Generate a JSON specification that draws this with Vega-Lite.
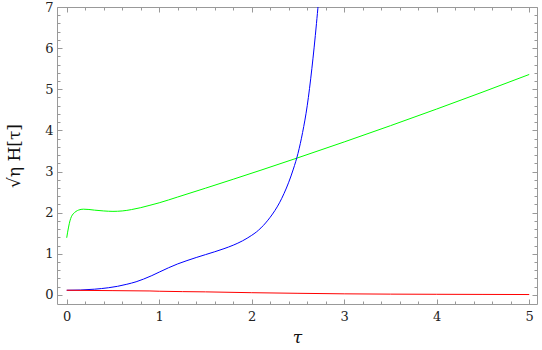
{
  "$schema": "https://vega.github.io/schema/vega-lite/v6.json",
  "width": 480,
  "height": 297,
  "autosize": "none",
  "padding": {"left": 57, "top": 7, "right": 5, "bottom": 46},
  "background": "white",
  "config": {
    "font": "DejaVu Serif",
    "view": {"stroke": "#999999", "strokeWidth": 1},
    "axis": {
      "domain": false,
      "grid": false,
      "tickColor": "#999999",
      "tickWidth": 1,
      "labelFont": "DejaVu Serif",
      "labelFontSize": 13,
      "labelColor": "#222222",
      "titleFont": "DejaVu Serif",
      "titleFontWeight": "normal",
      "titleColor": "#111111"
    }
  },
  "data": {
    "values": [
      {"t": 0, "v": 1.39, "s": "g"},
      {"t": 0.02, "v": 1.65, "s": "g"},
      {"t": 0.035, "v": 1.8, "s": "g"},
      {"t": 0.05, "v": 1.9, "s": "g"},
      {"t": 0.07, "v": 1.97, "s": "g"},
      {"t": 0.1, "v": 2.03, "s": "g"},
      {"t": 0.13, "v": 2.065, "s": "g"},
      {"t": 0.18, "v": 2.085, "s": "g"},
      {"t": 0.24, "v": 2.078, "s": "g"},
      {"t": 0.3, "v": 2.062, "s": "g"},
      {"t": 0.4, "v": 2.042, "s": "g"},
      {"t": 0.5, "v": 2.032, "s": "g"},
      {"t": 0.6, "v": 2.042, "s": "g"},
      {"t": 0.7, "v": 2.075, "s": "g"},
      {"t": 0.8, "v": 2.122, "s": "g"},
      {"t": 0.9, "v": 2.18, "s": "g"},
      {"t": 1.0, "v": 2.24, "s": "g"},
      {"t": 1.2, "v": 2.381, "s": "g"},
      {"t": 1.5, "v": 2.595, "s": "g"},
      {"t": 1.8, "v": 2.813, "s": "g"},
      {"t": 2.1, "v": 3.034, "s": "g"},
      {"t": 2.5, "v": 3.335, "s": "g"},
      {"t": 3.0, "v": 3.72, "s": "g"},
      {"t": 3.5, "v": 4.115, "s": "g"},
      {"t": 4.0, "v": 4.52, "s": "g"},
      {"t": 4.5, "v": 4.935, "s": "g"},
      {"t": 5.0, "v": 5.36, "s": "g"},
      {"t": 0, "v": 0.114, "s": "b"},
      {"t": 0.15, "v": 0.12, "s": "b"},
      {"t": 0.3, "v": 0.14, "s": "b"},
      {"t": 0.45, "v": 0.175, "s": "b"},
      {"t": 0.55, "v": 0.21, "s": "b"},
      {"t": 0.65, "v": 0.26, "s": "b"},
      {"t": 0.75, "v": 0.32, "s": "b"},
      {"t": 0.83, "v": 0.385, "s": "b"},
      {"t": 0.92, "v": 0.47, "s": "b"},
      {"t": 1.0, "v": 0.555, "s": "b"},
      {"t": 1.1, "v": 0.66, "s": "b"},
      {"t": 1.2, "v": 0.755, "s": "b"},
      {"t": 1.3, "v": 0.835, "s": "b"},
      {"t": 1.4, "v": 0.91, "s": "b"},
      {"t": 1.5, "v": 0.98, "s": "b"},
      {"t": 1.6, "v": 1.05, "s": "b"},
      {"t": 1.7, "v": 1.125, "s": "b"},
      {"t": 1.8, "v": 1.21, "s": "b"},
      {"t": 1.9, "v": 1.315, "s": "b"},
      {"t": 2.0, "v": 1.45, "s": "b"},
      {"t": 2.05, "v": 1.53, "s": "b"},
      {"t": 2.1, "v": 1.63, "s": "b"},
      {"t": 2.15, "v": 1.75, "s": "b"},
      {"t": 2.2, "v": 1.89, "s": "b"},
      {"t": 2.25, "v": 2.05, "s": "b"},
      {"t": 2.3, "v": 2.24, "s": "b"},
      {"t": 2.35, "v": 2.47, "s": "b"},
      {"t": 2.4, "v": 2.74, "s": "b"},
      {"t": 2.45, "v": 3.06, "s": "b"},
      {"t": 2.5, "v": 3.44, "s": "b"},
      {"t": 2.55, "v": 3.95, "s": "b"},
      {"t": 2.6, "v": 4.6, "s": "b"},
      {"t": 2.65, "v": 5.5, "s": "b"},
      {"t": 2.7, "v": 6.6, "s": "b"},
      {"t": 2.72, "v": 7.1, "s": "b"},
      {"t": 2.74, "v": 7.7, "s": "b"},
      {"t": 0, "v": 0.114, "s": "r"},
      {"t": 0.5, "v": 0.105, "s": "r"},
      {"t": 0.9, "v": 0.097, "s": "r"},
      {"t": 1.0, "v": 0.09, "s": "r"},
      {"t": 1.5, "v": 0.075, "s": "r"},
      {"t": 2.0, "v": 0.055, "s": "r"},
      {"t": 2.5, "v": 0.04, "s": "r"},
      {"t": 3.0, "v": 0.027, "s": "r"},
      {"t": 3.5, "v": 0.02, "s": "r"},
      {"t": 4.0, "v": 0.016, "s": "r"},
      {"t": 4.5, "v": 0.013, "s": "r"},
      {"t": 5.0, "v": 0.01, "s": "r"}
    ]
  },
  "layer": [
    {
      "mark": {"type": "line", "strokeWidth": 1, "clip": true, "interpolate": "monotone"},
      "encoding": {
        "x": {
          "field": "t", "type": "quantitative",
          "scale": {"domain": [-0.105, 5.084], "nice": false, "zero": false},
          "axis": {
            "orient": "bottom",
            "title": "τ",
            "titleFontStyle": "italic",
            "titleFontSize": 17,
            "titlePadding": 6,
            "values": [0, 0.2, 0.4, 0.6, 0.8, 1, 1.2, 1.4, 1.6, 1.8, 2, 2.2, 2.4, 2.6, 2.8, 3, 3.2, 3.4, 3.6, 3.8, 4, 4.2, 4.4, 4.6, 4.8, 5],
            "labelExpr": "abs(datum.value - round(datum.value)) < 0.001 ? format(datum.value, 'd') : ''",
            "tickSize": {"condition": {"test": "abs(datum.value - round(datum.value)) < 0.001", "value": -5}, "value": -3},
            "labelPadding": {"condition": {"test": "abs(datum.value - round(datum.value)) < 0.001", "value": 11}, "value": 9},
            "labelFlush": false
          }
        },
        "y": {
          "field": "v", "type": "quantitative",
          "scale": {"domain": [-0.22, 7], "nice": false, "zero": false},
          "axis": {
            "orient": "left",
            "title": "√η H[τ]",
            "titleFontSize": 17,
            "titlePadding": 21,
            "values": [0, 0.2, 0.4, 0.6, 0.8, 1, 1.2, 1.4, 1.6, 1.8, 2, 2.2, 2.4, 2.6, 2.8, 3, 3.2, 3.4, 3.6, 3.8, 4, 4.2, 4.4, 4.6, 4.8, 5, 5.2, 5.4, 5.6, 5.8, 6, 6.2, 6.4, 6.6, 6.8, 7],
            "labelExpr": "abs(datum.value - round(datum.value)) < 0.001 ? format(datum.value, 'd') : ''",
            "tickSize": {"condition": {"test": "abs(datum.value - round(datum.value)) < 0.001", "value": -5}, "value": -3},
            "labelPadding": {"condition": {"test": "abs(datum.value - round(datum.value)) < 0.001", "value": 9}, "value": 7},
            "labelFlush": false
          }
        },
        "color": {
          "field": "s", "type": "nominal",
          "scale": {"domain": ["g", "b", "r"], "range": ["#00ff00", "#0000ff", "#ff0000"]},
          "legend": null
        }
      }
    },
    {
      "mark": {"type": "point", "opacity": 0},
      "encoding": {
        "x": {
          "field": "t", "type": "quantitative",
          "axis": {
            "orient": "top",
            "title": null,
            "labels": false,
            "values": [0, 0.2, 0.4, 0.6, 0.8, 1, 1.2, 1.4, 1.6, 1.8, 2, 2.2, 2.4, 2.6, 2.8, 3, 3.2, 3.4, 3.6, 3.8, 4, 4.2, 4.4, 4.6, 4.8, 5],
            "tickSize": {"condition": {"test": "abs(datum.value - round(datum.value)) < 0.001", "value": -5}, "value": -3}
          }
        },
        "y": {
          "field": "v", "type": "quantitative",
          "axis": {
            "orient": "right",
            "title": null,
            "labels": false,
            "values": [0, 0.2, 0.4, 0.6, 0.8, 1, 1.2, 1.4, 1.6, 1.8, 2, 2.2, 2.4, 2.6, 2.8, 3, 3.2, 3.4, 3.6, 3.8, 4, 4.2, 4.4, 4.6, 4.8, 5, 5.2, 5.4, 5.6, 5.8, 6, 6.2, 6.4, 6.6, 6.8, 7],
            "tickSize": {"condition": {"test": "abs(datum.value - round(datum.value)) < 0.001", "value": -5}, "value": -3}
          }
        }
      }
    }
  ],
  "resolve": {"axis": {"x": "independent", "y": "independent"}}
}
